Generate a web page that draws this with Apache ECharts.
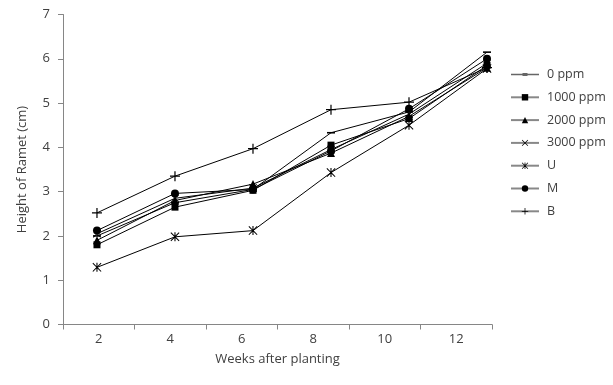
<!DOCTYPE html>
<html>
<head>
<meta charset="utf-8">
<script src="https://cdn.jsdelivr.net/npm/echarts@6/dist/echarts.min.js"></script>
<style>html,body{margin:0;padding:0;background:#fff}#c{width:613px;height:385px}</style>
</head>
<body>
<div id="c"></div>
<script>
const weeks = [2, 4, 6, 8, 10, 12];
const tickLabels = ['2', '4', '6', '8', '10', '12'];
const seriesNames = ['0 ppm', '1000 ppm', '2000 ppm', '3000 ppm', 'U', 'M', 'B'];
const ppm0    = [2.00, 2.75, 3.05, 4.33, 4.80, 6.15];
const ppm1000 = [1.80, 2.65, 3.03, 4.05, 4.65, 5.85];
const ppm2000 = [1.90, 2.80, 3.17, 3.87, 4.70, 5.80];
const ppm3000 = [2.05, 2.85, 3.08, 3.95, 4.75, 5.90];
const U       = [1.29, 1.98, 2.12, 3.43, 4.50, 5.78];
const M       = [2.12, 2.96, 3.05, 3.92, 4.87, 6.00];
const B       = [2.52, 3.35, 3.97, 4.85, 5.02, 5.80];
const values = [ppm0, ppm1000, ppm2000, ppm3000, U, M, B];

const dashPath = 'path://M0,0H10V2H0Z';
const plusPath = 'path://M4.4,0H5.6V4.4H10V5.6H5.6V10H4.4V5.6H0V4.4H4.4Z';
const xPath = 'path://M0,0.8L0.8,0L5,4.2L9.2,0L10,0.8L5.8,5L10,9.2L9.2,10L5,5.8L0.8,10L0,9.2L4.2,5Z';
const starPath = 'path://M0,0.8L0.8,0L5,4.2L9.2,0L10,0.8L5.8,5L10,9.2L9.2,10L5,5.8L0.8,10L0,9.2L4.2,5ZM4.4,0H5.6V10H4.4Z';
const symbols = [dashPath, 'rect', 'triangle', xPath, starPath, 'circle', plusPath];
const sizes = [8, 7, 8, 8, 9, 8, 10];
const dashLegendIcon = 'path://M0,1.2H28V2.8H0ZM11.5,0.6H16.5V3.4H11.5Z';

const chart = echarts.init(document.getElementById('c'), null, {renderer: 'canvas'});
const font = 'Open Sans';
const axisGray = '#868686';
const textCol = '#404040';

const legendData = seriesNames.map((n, i) => i === 0
  ? {name: n, icon: dashLegendIcon, itemStyle: {color: '#666'}}
  : {name: n});

chart.setOption({
  animation: false,
  backgroundColor: '#fff',
  textStyle: {fontFamily: font},
  grid: {left: 63, right: 121, top: 14.5, bottom: 60.5, containLabel: false},
  legend: {
    orient: 'vertical', left: 505, top: 63,
    itemWidth: 28, itemHeight: 8, itemGap: 9.8,
    data: legendData,
    textStyle: {fontFamily: font, fontSize: 12.5, color: textCol, padding: [0, 0, 0, 3]},
    lineStyle: {color: '#888', width: 2},
    itemStyle: {color: '#000'}
  },
  xAxis: [{
    type: 'category', data: tickLabels, boundaryGap: true,
    name: 'Weeks after planting', nameLocation: 'middle', nameGap: 28,
    nameTextStyle: {fontFamily: font, fontSize: 13, color: textCol},
    axisLine: {lineStyle: {color: axisGray, width: 1}},
    axisTick: {show: true, length: 5, lineStyle: {color: axisGray}},
    axisLabel: {fontFamily: font, fontSize: 13, color: textCol, margin: 8},
    splitLine: {show: false}
  }, {
    type: 'value', min: 1.129, max: 12.128, show: false,
    splitLine: {show: false}
  }],
  yAxis: {
    type: 'value', min: 0, max: 7, interval: 1,
    name: 'Height of Ramet (cm)', nameLocation: 'middle', nameGap: 34,
    nameTextStyle: {fontFamily: font, fontSize: 13, color: textCol},
    axisLine: {show: true, lineStyle: {color: axisGray, width: 1}},
    axisTick: {show: true, length: 5, lineStyle: {color: axisGray}},
    axisLabel: {fontFamily: font, fontSize: 13, color: textCol, margin: 13},
    splitLine: {show: false}
  },
  series: seriesNames.map((name, i) => ({
    name: name, type: 'line', xAxisIndex: 1,
    data: weeks.map((w, j) => [w, values[i][j]]),
    symbol: symbols[i], symbolSize: sizes[i], showSymbol: true,
    symbolKeepAspect: true,
    lineStyle: {color: '#000', width: 1},
    itemStyle: {color: '#000', borderWidth: 0},
    emphasis: {disabled: true}
  }))
});
</script>
</body>
</html>
